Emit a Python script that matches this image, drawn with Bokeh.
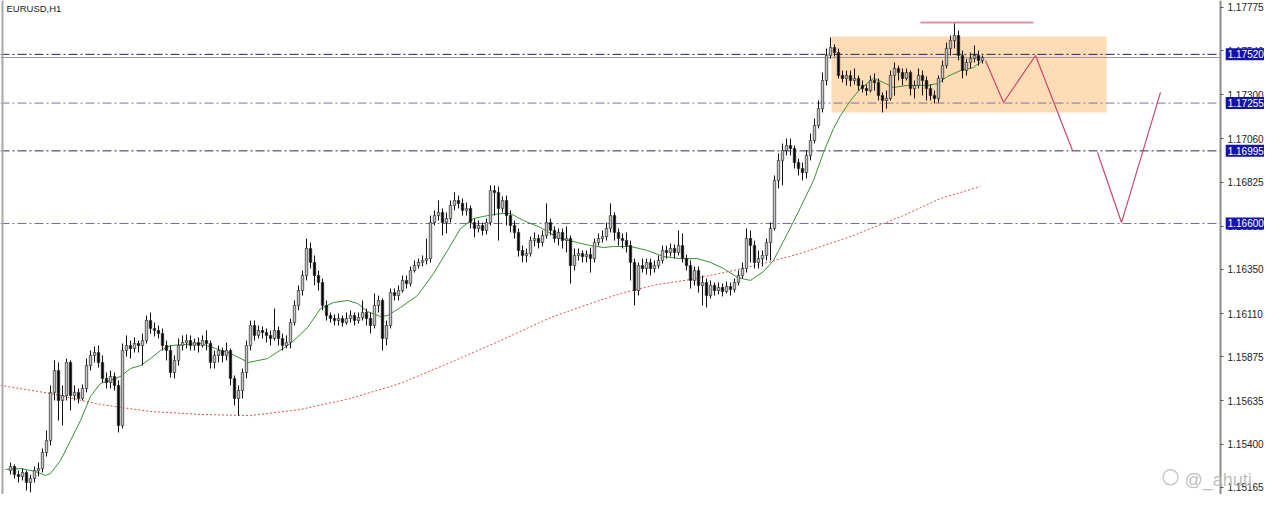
from bokeh.plotting import figure
from bokeh.models import Range1d, FixedTicker, PrintfTickFormatter, Span, Label, ColumnDataSource, LinearAxis
from bokeh.embed import file_html
from bokeh.resources import INLINE

symbol_title = "EURUSD,H1"

opens = [1.15256, 1.15278, 1.15234, 1.15224, 1.15245, 1.15191, 1.15213, 1.15256, 1.15267, 1.15354,
         1.15419, 1.15681, 1.15800, 1.15637, 1.15664, 1.15844, 1.15664, 1.15681, 1.15648, 1.15702,
         1.15827, 1.15882, 1.15898, 1.15844, 1.15757, 1.15735, 1.15768, 1.15719, 1.15501, 1.15909,
         1.15936, 1.15920, 1.15947, 1.15936, 1.15963, 1.16072, 1.16029, 1.16018, 1.16001, 1.15936,
         1.15909, 1.15789, 1.15855, 1.15936, 1.15952, 1.15963, 1.15936, 1.15952, 1.15936, 1.15963,
         1.15947, 1.15844, 1.15882, 1.15909, 1.15882, 1.15909, 1.15757, 1.15648, 1.15691, 1.15789,
         1.15936, 1.16045, 1.15991, 1.16018, 1.16007, 1.15991, 1.15974, 1.16018, 1.15974, 1.15936,
         1.15952, 1.16061, 1.16154, 1.16235, 1.16317, 1.16464, 1.16388, 1.16317, 1.16279, 1.16154,
         1.16099, 1.16083, 1.16072, 1.16083, 1.16061, 1.16083, 1.16099, 1.16072, 1.16088, 1.16116,
         1.16083, 1.16045, 1.16154, 1.16181, 1.15974, 1.16045, 1.16224, 1.16208, 1.16235, 1.16290,
         1.16273, 1.16344, 1.16371, 1.16388, 1.16399, 1.16409, 1.16605, 1.16643, 1.16660, 1.16605,
         1.16627, 1.16698, 1.16725, 1.16709, 1.16671, 1.16682, 1.16605, 1.16573, 1.16589, 1.16562,
         1.16605, 1.16779, 1.16769, 1.16682, 1.16725, 1.16643, 1.16589, 1.16551, 1.16453, 1.16426,
         1.16437, 1.16507, 1.16518, 1.16496, 1.16535, 1.16605, 1.16562, 1.16518, 1.16551, 1.16507,
         1.16518, 1.16371, 1.16426, 1.16437, 1.16420, 1.16431, 1.16409, 1.16496, 1.16518, 1.16529,
         1.16573, 1.16643, 1.16551, 1.16518, 1.16507, 1.16480, 1.16388, 1.16235, 1.16371, 1.16355,
         1.16388, 1.16355, 1.16371, 1.16399, 1.16453, 1.16442, 1.16464, 1.16442, 1.16480, 1.16409,
         1.16371, 1.16290, 1.16344, 1.16263, 1.16279, 1.16208, 1.16263, 1.16235, 1.16252, 1.16230,
         1.16257, 1.16241, 1.16279, 1.16317, 1.16355, 1.16518, 1.16480, 1.16388, 1.16409, 1.16426,
         1.16496, 1.16573, 1.16834, 1.16943, 1.16997, 1.17024, 1.17008, 1.16932, 1.16899, 1.16877,
         1.16970, 1.17051, 1.17133, 1.17225, 1.17378, 1.17514, 1.17557, 1.17530, 1.17405, 1.17389,
         1.17405, 1.17378, 1.17389, 1.17351, 1.17334, 1.17323, 1.17378, 1.17367, 1.17296, 1.17269,
         1.17280, 1.17405, 1.17443, 1.17421, 1.17389, 1.17421, 1.17334, 1.17351, 1.17405, 1.17378,
         1.17334, 1.17296, 1.17280, 1.17389, 1.17459, 1.17552, 1.17595, 1.17623, 1.17514, 1.17432,
         1.17476, 1.17497, 1.17514, 1.17487]

closes = [1.15278, 1.15234, 1.15224, 1.15245, 1.15191, 1.15213, 1.15256, 1.15267, 1.15354, 1.15419,
          1.15681, 1.15800, 1.15637, 1.15664, 1.15844, 1.15664, 1.15681, 1.15648, 1.15702, 1.15827,
          1.15882, 1.15898, 1.15844, 1.15757, 1.15735, 1.15768, 1.15719, 1.15501, 1.15909, 1.15936,
          1.15920, 1.15947, 1.15936, 1.15963, 1.16072, 1.16029, 1.16018, 1.16001, 1.15936, 1.15909,
          1.15789, 1.15855, 1.15936, 1.15952, 1.15963, 1.15936, 1.15952, 1.15936, 1.15963, 1.15947,
          1.15844, 1.15882, 1.15909, 1.15882, 1.15909, 1.15757, 1.15648, 1.15691, 1.15789, 1.15936,
          1.16045, 1.15991, 1.16018, 1.16007, 1.15991, 1.15974, 1.16018, 1.15974, 1.15936, 1.15952,
          1.16061, 1.16154, 1.16235, 1.16317, 1.16464, 1.16388, 1.16317, 1.16279, 1.16154, 1.16099,
          1.16083, 1.16072, 1.16083, 1.16061, 1.16083, 1.16099, 1.16072, 1.16088, 1.16116, 1.16083,
          1.16045, 1.16154, 1.16181, 1.15974, 1.16045, 1.16224, 1.16208, 1.16235, 1.16290, 1.16273,
          1.16344, 1.16371, 1.16388, 1.16399, 1.16409, 1.16605, 1.16643, 1.16660, 1.16605, 1.16627,
          1.16698, 1.16725, 1.16709, 1.16671, 1.16682, 1.16605, 1.16573, 1.16589, 1.16562, 1.16605,
          1.16779, 1.16769, 1.16682, 1.16725, 1.16643, 1.16589, 1.16551, 1.16453, 1.16426, 1.16437,
          1.16507, 1.16518, 1.16496, 1.16535, 1.16605, 1.16562, 1.16518, 1.16551, 1.16507, 1.16518,
          1.16371, 1.16426, 1.16437, 1.16420, 1.16431, 1.16409, 1.16496, 1.16518, 1.16529, 1.16573,
          1.16643, 1.16551, 1.16518, 1.16507, 1.16480, 1.16388, 1.16235, 1.16371, 1.16355, 1.16388,
          1.16355, 1.16371, 1.16399, 1.16453, 1.16442, 1.16464, 1.16442, 1.16480, 1.16409, 1.16371,
          1.16290, 1.16344, 1.16263, 1.16279, 1.16208, 1.16263, 1.16235, 1.16252, 1.16230, 1.16257,
          1.16241, 1.16279, 1.16317, 1.16355, 1.16518, 1.16480, 1.16388, 1.16409, 1.16426, 1.16496,
          1.16573, 1.16834, 1.16943, 1.16997, 1.17024, 1.17008, 1.16932, 1.16899, 1.16877, 1.16970,
          1.17051, 1.17133, 1.17225, 1.17378, 1.17514, 1.17557, 1.17530, 1.17405, 1.17389, 1.17405,
          1.17378, 1.17389, 1.17351, 1.17334, 1.17323, 1.17378, 1.17367, 1.17296, 1.17269, 1.17280,
          1.17405, 1.17443, 1.17421, 1.17389, 1.17421, 1.17334, 1.17351, 1.17405, 1.17378, 1.17334,
          1.17296, 1.17280, 1.17389, 1.17459, 1.17552, 1.17595, 1.17623, 1.17514, 1.17432, 1.17476,
          1.17497, 1.17514, 1.17487, 1.17503]

highs = [1.15300, 1.15289, 1.15256, 1.15267, 1.15256, 1.15234, 1.15278, 1.15300, 1.15376, 1.15474,
         1.15719, 1.15855, 1.15844, 1.15719, 1.15865, 1.15855, 1.15719, 1.15702, 1.15724, 1.15865,
         1.15909, 1.15931, 1.15936, 1.15882, 1.15789, 1.15800, 1.15789, 1.15746, 1.15947, 1.15991,
         1.15963, 1.15980, 1.15963, 1.16001, 1.16099, 1.16116, 1.16061, 1.16045, 1.16029, 1.15963,
         1.15936, 1.15882, 1.15974, 1.15991, 1.15996, 1.15991, 1.15974, 1.15980, 1.15991, 1.16018,
         1.15963, 1.15909, 1.15936, 1.15925, 1.15952, 1.15920, 1.15773, 1.15719, 1.15811, 1.15963,
         1.16072, 1.16072, 1.16045, 1.16040, 1.16029, 1.16018, 1.16137, 1.16040, 1.16001, 1.15991,
         1.16083, 1.16181, 1.16263, 1.16344, 1.16518, 1.16496, 1.16426, 1.16344, 1.16301, 1.16181,
         1.16116, 1.16105, 1.16110, 1.16099, 1.16116, 1.16127, 1.16116, 1.16116, 1.16181, 1.16137,
         1.16116, 1.16219, 1.16208, 1.16192, 1.16072, 1.16246, 1.16246, 1.16263, 1.16317, 1.16317,
         1.16366, 1.16399, 1.16409, 1.16426, 1.16518, 1.16643, 1.16671, 1.16725, 1.16682, 1.16660,
         1.16725, 1.16769, 1.16752, 1.16736, 1.16714, 1.16698, 1.16627, 1.16616, 1.16605, 1.16627,
         1.16807, 1.16807, 1.16801, 1.16747, 1.16752, 1.16671, 1.16616, 1.16573, 1.16480, 1.16464,
         1.16529, 1.16551, 1.16540, 1.16562, 1.16709, 1.16627, 1.16584, 1.16573, 1.16573, 1.16584,
         1.16535, 1.16464, 1.16464, 1.16453, 1.16453, 1.16469, 1.16518, 1.16546, 1.16562, 1.16605,
         1.16709, 1.16660, 1.16573, 1.16546, 1.16551, 1.16507, 1.16409, 1.16388, 1.16409, 1.16409,
         1.16409, 1.16399, 1.16426, 1.16480, 1.16480, 1.16491, 1.16486, 1.16562, 1.16546, 1.16431,
         1.16399, 1.16366, 1.16366, 1.16317, 1.16301, 1.16290, 1.16279, 1.16279, 1.16273, 1.16284,
         1.16279, 1.16301, 1.16344, 1.16388, 1.16573, 1.16562, 1.16507, 1.16453, 1.16453, 1.16518,
         1.16605, 1.16861, 1.16981, 1.17035, 1.17062, 1.17062, 1.17024, 1.16953, 1.16932, 1.16997,
         1.17089, 1.17171, 1.17269, 1.17421, 1.17552, 1.17612, 1.17574, 1.17552, 1.17432, 1.17432,
         1.17432, 1.17443, 1.17405, 1.17378, 1.17356, 1.17405, 1.17416, 1.17389, 1.17313, 1.17323,
         1.17432, 1.17476, 1.17459, 1.17443, 1.17443, 1.17432, 1.17378, 1.17443, 1.17432, 1.17400,
         1.17356, 1.17323, 1.17405, 1.17487, 1.17584, 1.17623, 1.17693, 1.17650, 1.17541, 1.17497,
         1.17530, 1.17568, 1.17541, 1.17514]

lows = [1.15234, 1.15213, 1.15191, 1.15202, 1.15147, 1.15137, 1.15191, 1.15224, 1.15245, 1.15332,
        1.15392, 1.15637, 1.15528, 1.15501, 1.15637, 1.15583, 1.15637, 1.15621, 1.15637, 1.15681,
        1.15800, 1.15844, 1.15816, 1.15735, 1.15702, 1.15702, 1.15691, 1.15463, 1.15485, 1.15876,
        1.15865, 1.15898, 1.15898, 1.15827, 1.15947, 1.16001, 1.15985, 1.15974, 1.15909, 1.15855,
        1.15762, 1.15757, 1.15827, 1.15909, 1.15920, 1.15909, 1.15909, 1.15898, 1.15925, 1.15909,
        1.15811, 1.15811, 1.15844, 1.15844, 1.15855, 1.15719, 1.15610, 1.15555, 1.15648, 1.15757,
        1.15909, 1.15963, 1.15974, 1.15974, 1.15952, 1.15936, 1.15963, 1.15936, 1.15909, 1.15920,
        1.15920, 1.16045, 1.16127, 1.16208, 1.16290, 1.16355, 1.16263, 1.16235, 1.16127, 1.16072,
        1.16061, 1.16045, 1.16045, 1.16040, 1.16050, 1.16061, 1.16045, 1.16056, 1.16072, 1.16045,
        1.16001, 1.16029, 1.16116, 1.15909, 1.15936, 1.16029, 1.16181, 1.16181, 1.16224, 1.16246,
        1.16257, 1.16333, 1.16355, 1.16366, 1.16377, 1.16388, 1.16589, 1.16616, 1.16535, 1.16546,
        1.16605, 1.16671, 1.16682, 1.16643, 1.16643, 1.16573, 1.16524, 1.16551, 1.16535, 1.16540,
        1.16589, 1.16643, 1.16507, 1.16660, 1.16589, 1.16551, 1.16518, 1.16420, 1.16388, 1.16388,
        1.16420, 1.16475, 1.16464, 1.16475, 1.16518, 1.16535, 1.16496, 1.16480, 1.16464, 1.16442,
        1.16273, 1.16344, 1.16399, 1.16388, 1.16388, 1.16333, 1.16388, 1.16480, 1.16496, 1.16507,
        1.16551, 1.16507, 1.16480, 1.16464, 1.16442, 1.16290, 1.16154, 1.16208, 1.16333, 1.16322,
        1.16317, 1.16333, 1.16355, 1.16382, 1.16409, 1.16420, 1.16409, 1.16426, 1.16388, 1.16344,
        1.16246, 1.16263, 1.16224, 1.16154, 1.16143, 1.16192, 1.16208, 1.16214, 1.16203, 1.16219,
        1.16208, 1.16224, 1.16263, 1.16301, 1.16333, 1.16388, 1.16355, 1.16355, 1.16366, 1.16399,
        1.16399, 1.16562, 1.16790, 1.16807, 1.16970, 1.16970, 1.16899, 1.16861, 1.16834, 1.16845,
        1.16943, 1.17035, 1.17117, 1.17204, 1.17351, 1.17497, 1.17508, 1.17389, 1.17367, 1.17351,
        1.17345, 1.17356, 1.17323, 1.17313, 1.17296, 1.17313, 1.17323, 1.17269, 1.17204, 1.17225,
        1.17269, 1.17296, 1.17378, 1.17351, 1.17378, 1.17296, 1.17280, 1.17334, 1.17296, 1.17269,
        1.17269, 1.17253, 1.17258, 1.17367, 1.17443, 1.17514, 1.17552, 1.17487, 1.17389, 1.17405,
        1.17443, 1.17476, 1.17459, 1.17470]

# moving averages (bar index, price)
fast_ma_idx = [-1.25, 2.5, 6.25, 8.75, 10, 12.5, 15, 17.5, 20, 22.5, 25, 27.5, 30, 32.5, 35, 37.5, 40,
               43.75, 47.5, 51.25, 55, 59.5, 64.25, 70, 74.25, 77.5, 80.75, 84.25, 86.75, 89.25, 92.5,
               94.25, 97.5, 101.75, 105.75, 109.25, 112.5, 115.75, 119.25, 122.5, 125, 128.25, 132.5,
               136.75, 141.75, 145, 148.25, 150.75, 155, 159.25, 163.25, 167.5, 171.75, 175, 178.25,
               181.75, 185, 188.25, 190.75, 194.25, 197.5, 200.75, 203.25, 205.75, 207.5, 210, 212.5,
               215.75, 218.25, 220.75, 224.25, 229.25, 231.75, 234.25, 237.5, 240.75, 243]
fast_ma_val = [1.15262, 1.15267, 1.15251, 1.15229, 1.15240, 1.15311, 1.15419, 1.15528, 1.15659, 1.15730,
               1.15746, 1.15768, 1.15811, 1.15827, 1.15865, 1.15909, 1.15936, 1.15942, 1.15947, 1.15920,
               1.15893, 1.15844, 1.15865, 1.15947, 1.16034, 1.16137, 1.16170, 1.16181, 1.16165, 1.16121,
               1.16094, 1.16099, 1.16143, 1.16208, 1.16328, 1.16453, 1.16573, 1.16627, 1.16643, 1.16654,
               1.16654, 1.16616, 1.16578, 1.16524, 1.16496, 1.16480, 1.16469, 1.16475, 1.16475, 1.16453,
               1.16420, 1.16409, 1.16409, 1.16388, 1.16355, 1.16306, 1.16290, 1.16339, 1.16399, 1.16546,
               1.16687, 1.16834, 1.16986, 1.17117, 1.17187, 1.17269, 1.17334, 1.17389, 1.17367, 1.17340,
               1.17351, 1.17351, 1.17361, 1.17400, 1.17432, 1.17448, 1.17487]

slow_ma_idx = [-2.5, 10, 22.5, 35, 47.5, 60, 72.5, 85, 97.5, 110, 122.5, 135, 145, 153.25, 161.75, 170,
               180.75, 189.25, 197.5, 210, 223.25, 232.5, 242.5]
slow_ma_val = [1.15719, 1.15675, 1.15615, 1.15577, 1.15561, 1.15555, 1.15588, 1.15648, 1.15730, 1.15844,
               1.15963, 1.16088, 1.16165, 1.16224, 1.16268, 1.16295, 1.16344, 1.16388, 1.16437, 1.16529,
               1.16643, 1.16736, 1.16801]

# drawn objects
level_prices = [1.17520, 1.17255, 1.16995, 1.16600]
level_colors = ["#23235a", "#7d72b4", "#2b2b5c", "#6a6ab8"]
bid_price = 1.17503
zone_idx = [205.25, 274.0]
zone_price = [1.17204, 1.17617]
proj_a_idx = [243.75, 248.25, 256.25, 265.5]
proj_a_val = [1.17487, 1.17258, 1.17514, 1.16997]
proj_b_idx = [271.75, 277.75, 287.5]
proj_b_val = [1.16986, 1.16605, 1.17313]
top_mark_idx = [227.5, 255.75]
top_mark_val = [1.17693, 1.17693]

axis_ticks = [1.15165, 1.15400, 1.15635, 1.15875, 1.16110, 1.16350, 1.16585, 1.16825, 1.17060,
              1.17300, 1.17540, 1.17775]
watermark = "@_ahuti"

FONT = "Liberation Sans"
X0, X1 = -2.5, 313.5      # bar-index range across the whole canvas (4 px per bar)
AXIS_AT = 302.5           # bar index where the price scale sits

p = figure(width=1264, height=494, output_backend="svg", toolbar_location=None,
           x_range=Range1d(X0, X1), y_range=Range1d(1.151256, 1.17813),
           x_axis_location=None, y_axis_location=None,
           min_border_left=0, min_border_top=0, min_border_bottom=0, min_border_right=0)
p.grid.visible = False
p.outline_line_color = None
p.background_fill_color = "white"
p.border_fill_color = "white"

ax = LinearAxis(fixed_location=AXIS_AT)
ax.ticker = FixedTicker(ticks=axis_ticks)
ax.formatter = PrintfTickFormatter(format="%.5f")
ax.major_label_text_font = FONT
ax.major_label_text_font_size = "10px"
ax.major_label_text_color = "#1e1e1e"
ax.axis_line_color = "#8c8c8c"
ax.axis_line_width = 2
ax.major_tick_out = 3
ax.major_tick_in = 0
ax.major_tick_line_color = "#555555"
ax.minor_tick_line_color = None
ax.major_label_standoff = 4
p.add_layout(ax, "right")

# support/resistance zone
p.quad(left=[zone_idx[0]], right=[zone_idx[1]], bottom=[zone_price[0]], top=[zone_price[1]],
       fill_color="#fddcb6", line_color=None)

# horizontal levels (ending at the price scale)
n_lv = len(level_prices)
p.segment(x0=[X0] * n_lv, x1=[AXIS_AT] * n_lv, y0=level_prices, y1=level_prices,
          line_color=level_colors, line_width=1, line_dash="9 3 2 3")
p.segment(x0=[X0], x1=[AXIS_AT], y0=[bid_price], y1=[bid_price], line_color="#9a9a9a", line_width=1)
p.add_layout(Span(location=-2.0, dimension="height", line_color="#a8a8a8", line_width=2))

# moving averages
p.line(slow_ma_idx, slow_ma_val, line_color="#d9534f", line_width=1, line_dash="2 2")
p.line(fast_ma_idx, fast_ma_val, line_color="#3b8e3b", line_width=1)

# candles
n = len(closes)
src = ColumnDataSource(dict(
    idx=list(range(n)), high=highs, low=lows,
    top=[max(o, c) for o, c in zip(opens, closes)],
    bottom=[min(o, c) for o, c in zip(opens, closes)],
    fill=["#c4c4c4" if c >= o else "#000000" for o, c in zip(opens, closes)],
))
p.segment(x0="idx", y0="low", x1="idx", y1="high", source=src, line_color="#111111", line_width=1)
p.vbar(x="idx", width=0.6, top="top", bottom="bottom", source=src,
       fill_color="fill", line_color="#2a2a2a", line_width=0.7)

# projections
p.line(proj_a_idx, proj_a_val, line_color="#c94a6a", line_width=1.2)
p.line(proj_b_idx, proj_b_val, line_color="#c94a6a", line_width=1.2)
p.line(top_mark_idx, top_mark_val, line_color="#e58fa5", line_width=2)

# texts
p.add_layout(Label(x=-1.0, y=1.17802, text=symbol_title, text_font=FONT, text_font_size="9.5px",
                   text_color="#222222", text_baseline="top", text_align="left"))
for lv in level_prices:
    p.add_layout(Label(x=AXIS_AT + 1.3, y=lv, text="%.5f" % lv, text_font=FONT, text_font_size="10px",
                       text_color="white", text_baseline="middle", text_align="left",
                       background_fill_color="#1414a8", padding=2))
p.scatter([290.0], [1.15219], marker="circle", size=15, fill_color=None, line_color="#c8c8c8", line_width=1.5)
p.add_layout(Label(x=293.5, y=1.15202, text=watermark, text_font=FONT, text_font_size="18px",
                   text_color="#b8b8b8", text_alpha=0.9, text_baseline="middle", text_align="left"))

open("out.html", "w").write(file_html(p, INLINE))
